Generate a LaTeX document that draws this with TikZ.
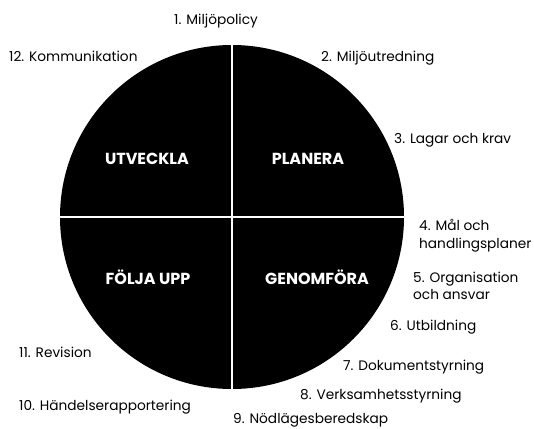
\documentclass[tikz,border=0pt]{standalone}
\usepackage{fontspec}
\setmainfont{Poppins}
\begin{document}
\begin{tikzpicture}[x=1pt,y=-1pt,
  lbl/.style={anchor=base west,inner sep=0pt,font=\fontsize{13.7}{16}\selectfont,text=black},
  phase/.style={inner sep=0pt,font=\fontsize{16}{18}\selectfont\bfseries,text=white},
  divider/.style={white,line width=1.3pt}]
\useasboundingbox (0,0) rectangle (534,428);
\node[circle,fill=black,minimum size=344pt,inner sep=0pt] (c) at (232,217) {};
\draw[divider] (c.north) -- (c.south);
\draw[divider] (c.west) -- (c.east);
\node[phase] (utv) at (147,159) {UTVECKLA};
\node[phase] (pla) at (308,159) {PLANERA};
\node[phase] (fol) at (148,277) {FÖLJA UPP};
\node[phase] (gen) at (317,277) {GENOMFÖRA};
\node[lbl] (l1) at (174,25) {1. Miljöpolicy};
\node[lbl] (l2) at (321,61.5) {2. Miljöutredning};
\node[lbl] (l3) at (394,143) {3. Lagar och krav};
\node[lbl] (l4a) at (419,230.5) {4. Mål och};
\node[lbl] (l4b) at (419,248) {handlingsplaner};
\node[lbl] (l5a) at (413,282) {5. Organisation};
\node[lbl] (l5b) at (413,299) {och ansvar};
\node[lbl] (l6) at (390,330.5) {6. Utbildning};
\node[lbl] (l7) at (343,370) {7. Dokumentstyrning};
\node[lbl] (l8) at (300,399) {8. Verksamhetsstyrning};
\node[lbl] (l9) at (233,423) {9. Nödlägesberedskap};
\node[lbl] (l10) at (19,410) {10. Händelserapportering};
\node[lbl] (l11) at (19,357) {11. Revision};
\node[lbl] (l12) at (9,61.5) {12. Kommunikation};
\end{tikzpicture}
\end{document}
